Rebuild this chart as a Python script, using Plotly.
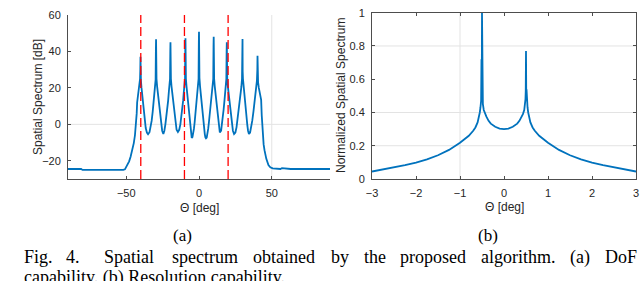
import plotly.graph_objects as go

# ---------------- data: (a) DoF capability ----------------
theta_a = [-90, -81, -80, -60, -54, -52, -50.9, -49.3, -48, -47, -46, -44.8, -44, -43.5, -43.1,
           -42.8, -42.5, -41.8, -41.3, -40.9, -40.5, -40.32, -40.26, -40.2, -40.1, -39.9, -39.5, -39.1,
           -38.6, -38, -37.4, -36.6, -35.8, -35,
           -34, -33, -32.5, -31.8, -31.1, -30.6, -30.2, -29.8, -29.62, -29.56, -29.5, -29.4, -29.2,
           -28.8, -28.4, -27.9, -27.2, -26.5, -26, -25.3, -24.5,
           -23.8, -23.1, -22.6, -21.9, -21.2, -20.7, -20.3, -19.9, -19.72, -19.66, -19.6, -19.5, -19.3,
           -18.9, -18.5, -18, -17.3, -16.6, -16.1, -15.4, -14.5,
           -13.6, -12.8, -12.3, -11.6, -10.9, -10.4, -10, -9.6, -9.42, -9.36, -9.3, -9.2, -9,
           -8.6, -8.2, -7.7, -7, -6.4, -5.9, -5.5, -5,
           -4.5, -4, -3.5, -3, -2.3, -1.6, -1.1, -0.7, -0.3, -0.12, -0.06, 0, 0.1, 0.3,
           0.7, 1.1, 1.6, 2.3, 3, 3.5, 4, 4.4, 4.8,
           5.3, 5.8, 6.3, 6.8, 7.5, 8.3, 8.9, 9.4, 9.8, 9.98, 10.04, 10.1, 10.2, 10.4,
           10.8, 11.2, 11.7, 12.3, 12.8, 13.4, 14.3,
           15.2, 15.8, 16.3, 16.9, 17.5, 18, 18.4, 18.8, 18.98, 19.04, 19.1, 19.2, 19.4,
           19.8, 20.2, 20.7, 21.4, 22.1, 22.6, 23.3, 24.1,
           25, 25.8, 26.4, 27.2, 28, 28.6, 29.1, 29.55, 29.78, 29.84, 29.9, 30, 30.2,
           30.6, 31, 31.5, 32.1, 32.7, 33.2, 33.7, 34.3,
           35.1, 35.9, 36.6, 37.4, 38.1, 38.8, 39.4, 39.8, 40.08, 40.14, 40.2, 40.32, 40.6,
           41.1, 41.6, 42.1, 42.7, 43.1, 43.4, 43.8, 44.4, 45, 46.2, 47.7, 49, 50.6,
           53, 56, 57, 60, 63, 90]
spec_db = [-24.5, -24.5, -25, -25, -25.2, -25, -24.7, -22.3, -20.3, -17.8, -14.8, -10.3, -6, -2.5, 0.7,
           6, 12, 16, 18.5, 21, 25, 30, 26, 37.1, 27, 24, 20, 17,
           11, 5.5, 2, -2, -4.5, -5.4,
           -4.3, -1, 2, 7, 12.5, 17, 20.5, 24.5, 41, 27, 46.7, 29, 25,
           21, 18, 13, 8, 3, 0, -3.5, -5.3,
           -3.5, 0, 3, 8, 13, 18, 21, 25, 40, 26, 45, 28, 25,
           21, 18, 13, 8, 3, 0, -3, -4.2,
           -3, 0, 3, 8, 13, 18, 21, 25, 42, 27, 47.2, 29, 25,
           21, 18, 13, 8, 2.5, -2, -5.5, -7.5,
           -7, -5.5, -2.5, 1, 7, 12.5, 17.5, 21, 25, 45, 27, 50.8, 29, 25.5,
           21, 17.5, 12.5, 7, 1, -2.5, -5.5, -7.2, -7.7,
           -7.3, -5.5, -2.5, 1, 6.5, 12.5, 17.5, 21, 25, 43, 27, 48, 29, 25,
           21, 18, 13, 8, 3, -1, -4.4,
           -3.5, 0, 3, 8, 13, 18, 21, 25, 40, 26, 45, 28, 25,
           21, 18, 13, 8, 3, 0, -3.5, -5.3,
           -4.5, -1.5, 2, 7.5, 12.5, 17, 20.5, 25, 42, 27, 46.8, 29, 25,
           21, 18, 13, 8, 3, -0.5, -3.5, -5.3,
           -4.5, -1.5, 2, 7, 12, 17, 20.5, 24, 30, 26, 37.6, 26, 23,
           20, 18, 16, 13.4, 5, -1, -6.8, -11, -14.2, -18.8, -22.4, -23.6, -24.2,
           -24.5, -24.5, -24, -24.2, -24.5, -24.5]
true_doa = [-40, -10, 20]

# ---------------- data: (b) Resolution capability ----------------
theta_b = [-3, -2.75, -2.5, -2.25, -2, -1.75, -1.5, -1.25, -1, -0.9, -0.8, -0.7, -0.65, -0.6,
           -0.57, -0.55, -0.535, -0.52, -0.512, -0.506, -0.5, -0.494, -0.488, -0.48, -0.46, -0.43,
           -0.4, -0.35, -0.3, -0.2, -0.1, 0, 0.1, 0.2, 0.3, 0.35, 0.4, 0.43, 0.46, 0.48, 0.488,
           0.494, 0.5, 0.506, 0.512, 0.52, 0.535, 0.55, 0.57, 0.6, 0.65, 0.7, 0.8, 0.9, 1,
           1.25, 1.5, 1.75, 2, 2.25, 2.5, 2.75, 3]
norm_spec = [0.045, 0.057, 0.07, 0.083, 0.098, 0.118, 0.143, 0.175, 0.218, 0.238, 0.26, 0.29,
             0.31, 0.34, 0.37, 0.4, 0.43, 0.47, 0.72, 0.5, 1.0, 0.53, 0.48, 0.45, 0.415, 0.39,
             0.375, 0.35, 0.333, 0.314, 0.303, 0.3, 0.303, 0.314, 0.333, 0.35, 0.375, 0.39, 0.415,
             0.45, 0.48, 0.53, 0.77, 0.5, 0.54, 0.47, 0.43, 0.4, 0.37, 0.34, 0.31, 0.29, 0.26,
             0.238, 0.218, 0.175, 0.143, 0.118, 0.098, 0.083, 0.07, 0.057, 0.045]

xticks_a = [-50, 0, 50]
yticks_a = [-20, 0, 20, 40, 60]
xticks_b = [-3, -2, -1, 0, 1, 2, 3]
yticks_b = [0, 0.2, 0.4, 0.6, 0.8, 1]
ytext_b = ["0", "0.2", "0.4", "0.6", "0.8", "1"]
grid_a_x, grid_a_y = [50], [0]
grid_b_x, grid_b_y = [-1], [0.2, 0.4, 0.8]

caption_words = ["Fig.", "4.", "Spatial", "spectrum", "obtained", "by", "the",
                 "proposed", "algorithm.", "(a)", "DoF"]
caption_x = [22, 64, 102, 170, 251, 329, 362, 398, 479, 568, 603]

# ---------------- figure ----------------
BLUE = "#0072BD"
AX = "#4d4d4d"
TXT = "#262626"
GRID = "#e3e3e3"
SANS = "Liberation Sans, Arial, sans-serif"
SERIF = "Liberation Serif, Times New Roman, serif"

fig = go.Figure()
fig.add_trace(go.Scatter(x=theta_a, y=spec_db, mode="lines",
                         line=dict(color=BLUE, width=1.8), xaxis="x", yaxis="y",
                         showlegend=False))
fig.add_trace(go.Scatter(x=theta_b, y=norm_spec, mode="lines",
                         line=dict(color=BLUE, width=1.8), xaxis="x2", yaxis="y2",
                         showlegend=False))

shapes = []
for g in grid_a_x:
    shapes.append(dict(type="line", xref="x", yref="y domain", x0=g, x1=g, y0=0, y1=1,
                       line=dict(color=GRID, width=1), layer="below"))
for g in grid_a_y:
    shapes.append(dict(type="line", xref="x domain", yref="y", x0=0, x1=1, y0=g, y1=g,
                       line=dict(color=GRID, width=1), layer="below"))
for g in grid_b_x:
    shapes.append(dict(type="line", xref="x2", yref="y2 domain", x0=g, x1=g, y0=0, y1=1,
                       line=dict(color=GRID, width=1), layer="below"))
for g in grid_b_y:
    shapes.append(dict(type="line", xref="x2 domain", yref="y2", x0=0, x1=1, y0=g, y1=g,
                       line=dict(color=GRID, width=1), layer="below"))
for d in true_doa:
    shapes.append(dict(type="line", xref="x", yref="y domain", x0=d, x1=d, y0=0, y1=1,
                       line=dict(color="#ff0000", width=1.3, dash="9px,4px"), layer="above"))

W, H = 640, 281
def px(x):
    return x / W
def py(y):
    return (H - y) / H

axis_common = dict(showline=True, linecolor=AX, linewidth=1, ticks="inside", ticklen=3,
                   tickcolor=AX, showgrid=False, zeroline=False,
                   tickfont=dict(family=SANS, size=11, color=TXT))

fig.update_layout(
    width=W, height=H, margin=dict(l=0, r=0, t=0, b=0, autoexpand=False),
    paper_bgcolor="white", plot_bgcolor="white",
    xaxis=dict(domain=[px(68), px(330)], range=[-90, 90], tickvals=xticks_a,
               anchor="y", ticklabelstandoff=4, **axis_common),
    yaxis=dict(domain=[py(179), py(15)], range=[-30, 60], tickvals=yticks_a,
               anchor="x", ticklabelstandoff=4, **axis_common),
    xaxis2=dict(domain=[px(372), px(636)], range=[-3, 3], tickvals=xticks_b,
                anchor="y2", mirror="ticks", ticklabelstandoff=4, **axis_common),
    yaxis2=dict(domain=[py(179), py(12.7)], range=[0, 1], tickvals=yticks_b,
                ticktext=ytext_b, anchor="x2", mirror="ticks", ticklabelstandoff=4,
                **axis_common),
    shapes=shapes,
)

def note(text, x, y, size, family, color, angle=0, xanchor="center"):
    return dict(text=text, x=px(x), y=py(y), xref="paper", yref="paper",
                xanchor=xanchor, yanchor="middle", textangle=angle, showarrow=False,
                font=dict(family=family, size=size, color=color))

ann = [
    note("Spatial Spectrum [dB]", 38, 97, 12, SANS, TXT, -90),
    note("Θ [deg]", 199, 208, 12, SANS, TXT),
    note("Normalized Spatial Spectrum", 341, 96, 12, SANS, TXT, -90),
    note("Θ [deg]", 504, 207, 12, SANS, TXT),
    note("(a)", 182, 235, 17, SERIF, "black"),
    note("(b)", 488, 235, 17, SERIF, "black"),
]
for w, x in zip(caption_words, caption_x):
    ann.append(note(w, x, 257, 18, SERIF, "black", xanchor="left"))
ann.append(note("capability. (b) Resolution capability.", 22, 277, 18, SERIF, "black",
                xanchor="left"))
fig.update_layout(annotations=ann)

fig.write_html("out.html", config={"displayModeBar": False, "staticPlot": True},
               post_script="document.body.style.margin='0';document.body.style.overflow='hidden';")
